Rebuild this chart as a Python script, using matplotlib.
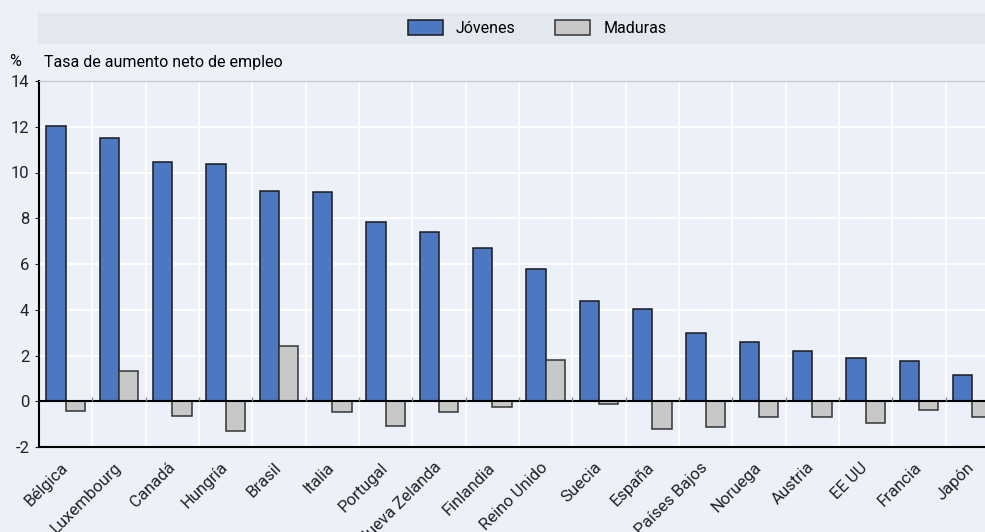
import matplotlib.pyplot as plt
from matplotlib.patches import Rectangle
import numpy as np

countries = ['Bélgica', 'Luxembourg', 'Canadá', 'Hungría', 'Brasil', 'Italia',
             'Portugal', 'Nueva Zelanda', 'Finlandia', 'Reino Unido', 'Suecia',
             'España', 'Países Bajos', 'Noruega', 'Austria', 'EE UU', 'Francia', 'Japón']
jovenes = [12.05, 11.5, 10.45, 10.35, 9.2, 9.15, 7.85, 7.4, 6.7, 5.8, 4.37,
           4.05, 2.99, 2.61, 2.19, 1.87, 1.75, 1.14]
maduras = [-0.42, 1.33, -0.65, -1.29, 2.4, -0.47, -1.1, -0.49, -0.24, 1.8, -0.12,
           -1.2, -1.13, -0.68, -0.71, -0.96, -0.37, -0.71]

plt.rcParams['font.family'] = ['Roboto', 'DejaVu Sans']
plt.rcParams['font.size'] = 11.5
plt.rcParams['axes.unicode_minus'] = False

bg = '#ebf0f9'
blue = '#4d77c1'
grey = '#c8c8c8'

fig = plt.figure(figsize=(9.85, 5.32), dpi=100)
fig.patch.set_facecolor(bg)

# legend band
fig.patches.append(Rectangle((38 / 985, 1 - 43 / 532), 1, 30 / 532,
                             transform=fig.transFigure, color='#e3e7ee', zorder=0))

ax = fig.add_axes([39 / 985, 85 / 532, 960 / 985, 366 / 532])
ax.set_facecolor(bg)

x = np.arange(len(countries))
w = 0.36
b1 = ax.bar(x - w / 2, jovenes, w, color=blue, edgecolor='#1a1a1a', linewidth=1.1,
            label='Jóvenes', zorder=3)
b2 = ax.bar(x + w / 2, maduras, w, color=grey, edgecolor='#333333', linewidth=1.1,
            label='Maduras', zorder=3)

ax.set_xlim(-0.5, len(countries) - 0.5)
ax.set_ylim(-2, 14)
ax.set_yticks(range(-2, 15, 2))
ax.set_xticks(x)
ax.set_xticklabels(countries, rotation=45, ha='right', va='center',
                   rotation_mode='anchor', fontsize=12)
ax.set_xticks(x[:-1] + 0.5, minor=True)
ax.tick_params(axis='x', which='both', length=0, pad=13)
ax.tick_params(axis='y', length=3, pad=4, colors='#222222', labelsize=12)
ax.tick_params(axis='x', colors='#222222')

ax.grid(axis='y', color='white', linewidth=1.3, zorder=1)
ax.grid(axis='x', which='minor', color='white', linewidth=1.3, zorder=1)
ax.set_axisbelow(True)

ax.axhline(0, color='black', linewidth=1.5, zorder=4)
ax.vlines(x[:-1] + 0.5, 0, 0.18, color='#888888', linewidth=1, zorder=4)

ax.spines['right'].set_visible(False)
ax.spines['top'].set_color('#c0c4cc')
ax.spines['left'].set_linewidth(1.5)
ax.spines['bottom'].set_linewidth(1.5)

fig.text(15 / 985, 1 - 62 / 532, '%', va='center', ha='center', fontsize=11.5)
fig.text(44 / 985, 1 - 62 / 532, 'Tasa de aumento neto de empleo', va='center',
         ha='left', fontsize=11.5)

fig.legend(handles=[b1, b2], loc='center', bbox_to_anchor=(537 / 985, 1 - 28 / 532),
           ncol=2, frameon=False, handlelength=2.2, handleheight=1.1,
           columnspacing=2.5, fontsize=11.5)

fig.savefig('out.png', dpi=100, facecolor=bg)
